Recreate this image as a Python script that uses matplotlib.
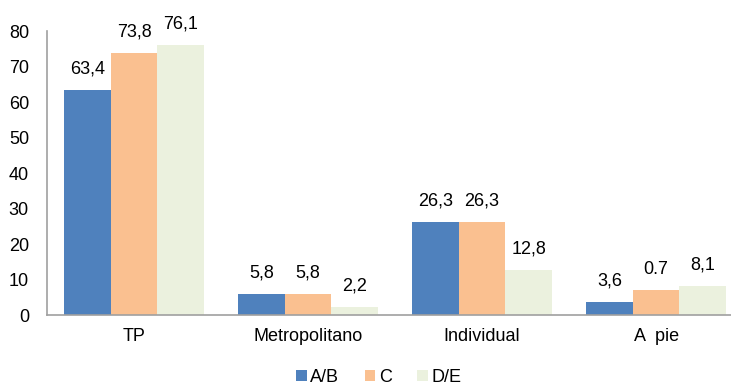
import numpy as np
import matplotlib.pyplot as plt

categories = ['TP', 'Metropolitano', 'Individual', 'A  pie']
series = ['A/B', 'C', 'D/E']
values_ab = [63.4, 5.8, 26.3, 3.6]
values_c = [73.8, 5.8, 26.3, 7.0]
values_de = [76.1, 2.2, 12.8, 8.1]
colors = ['#4F81BD', '#FAC090', '#EBF1DE']
# label text as printed in the source table (one entry was typed as "0.7")
label_overrides = {('C', 3): '0.7'}

plt.rcParams['font.family'] = ['Liberation Sans', 'DejaVu Sans']

fig = plt.figure(figsize=(7.31, 3.92), dpi=100)
ax = fig.add_axes([0.0643, 0.1964, 0.9357, 0.7245])

x = np.arange(len(categories))
width = 0.268
for i, (name, vals, col) in enumerate(zip(series, [values_ab, values_c, values_de], colors)):
    pos = x + (i - 1) * width
    bars = ax.bar(pos, vals, width, color=col, label=name)
    for j, b in enumerate(bars):
        txt = label_overrides.get((name, j), f'{vals[j]:.1f}'.replace('.', ','))
        ax.annotate(txt, (b.get_x() + b.get_width() / 2, b.get_height()),
                    xytext=(0, 9), textcoords='offset points',
                    ha='center', va='bottom', fontsize=13)

ax.set_xlim(-0.5, 3.43)
ax.set_ylim(0, 80)
ax.set_yticks(range(0, 81, 10))
ax.set_xticks(x)
ax.set_xticklabels(categories)
ax.tick_params(axis='both', length=0, labelsize=13)
ax.tick_params(axis='x', pad=9)
ax.tick_params(axis='y', pad=13)
for side in ['top', 'right']:
    ax.spines[side].set_visible(False)
for side in ['left', 'bottom']:
    ax.spines[side].set_color('#A0A0A0')
    ax.spines[side].set_linewidth(1.2)

ax.legend(loc='upper center', bbox_to_anchor=(0.485, -0.145), ncol=3, frameon=False,
          fontsize=13, handlelength=0.6, handleheight=0.6, handletextpad=0.2,
          columnspacing=1.4, borderpad=0.2)

fig.savefig('out.png', dpi=100)
